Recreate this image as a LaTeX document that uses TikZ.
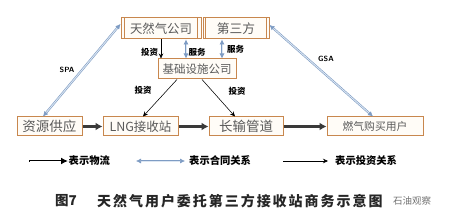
\documentclass[tikz,border=0pt]{standalone}
\usepackage{fontspec}
\setmainfont{Noto Sans CJK SC}
\usetikzlibrary{arrows.meta}
\definecolor{boxline}{HTML}{C8874E}
\definecolor{boxfill}{HTML}{FFFCF7}
\definecolor{boxtext}{HTML}{5A5A5A}
\definecolor{cblue}{HTML}{7E9CC4}
\definecolor{cbluel}{HTML}{DCE6F2}
\definecolor{flowgray}{HTML}{3A3A3A}
\newcommand{\fsz}[1]{\fontsize{#1}{#1}\selectfont}
\tikzset{
  box/.style={draw=boxline, line width=1pt, fill=boxfill, text=boxtext,
    minimum height=#1, inner sep=0pt},
  box/.default=19,
  lbl/.style={font=\fsz{8.5}\bfseries, text=black, inner sep=0pt},
  leg/.style={font=\fsz{10.3}\bfseries, text=black, inner sep=0pt, anchor=west},
  invest/.style={draw=black, line width=0.55pt, -{Stealth[length=5pt,width=4.5pt]}},
  contract/.style={draw=cblue, double=cbluel, line width=0.6pt, double distance=0.9pt,
    {Latex[length=5pt,width=5pt,fill=cblue]}-{Latex[length=5pt,width=5pt,fill=cblue]}},
  flow/.style={draw=flowgray, line width=2.3pt, -{Latex[length=7pt,width=8pt]}},
  flowlegout/.style={draw=black, line width=2.6pt, -{Latex[length=7pt,width=7pt]}},
  flowlegin/.style={draw=white, line width=0.9pt, shorten >=7pt, shorten <=0.8pt},
}
\begin{document}
\begin{tikzpicture}[x=1pt,y=-1pt]
\useasboundingbox (0,0) rectangle (453,219);
\fill[white] (0,0) rectangle (453,219);
% top boxes
\node[box=21, minimum width=80, font=\fsz{12.4}] (ng) at (161,28.5) {天然气公司};
\draw[boxline, line width=0.8pt] ([xshift=4]ng.north west) -- ([xshift=4]ng.south west)
  ([xshift=-4]ng.north east) -- ([xshift=-4]ng.south east);
\node[box=21, minimum width=66, font=\fsz{12.7}] (third) at (236,28.5) {第三方};
\draw[boxline, line width=0.8pt] ([xshift=3]third.north west) -- ([xshift=3]third.south west)
  ([xshift=-3]third.north east) -- ([xshift=-3]third.south east);
\node[box=20, minimum width=78, font=\fsz{11.5}] (infra) at (197,69) {基础设施公司};
% bottom row
\node[box, minimum width=65, font=\fsz{13.5}] (src) at (49.5,126.5) {资源供应};
\node[box, minimum width=75, font=\fsz{12.5}] (lng) at (140.5,126.5) {LNG接收站};
\node[box, minimum width=74, font=\fsz{13.5}] (pipe) at (246,126.5) {长输管道};
\node[box, minimum width=96, font=\fsz{10.8}] (user) at (375,126.5) {燃气购买用户};
% connectors
\draw[invest] (ng.south) -- (ng.south |- infra.north);
\draw[contract] ([xshift=25]ng.south) -- ([xshift=25]ng.south |- infra.north);
\draw[contract] ([xshift=-14]third.south) -- ([xshift=-14]third.south |- infra.north);
\draw[invest] ([xshift=-20]infra.south) -- ([xshift=2.5]lng.north);
\draw[invest] ([xshift=5]infra.south) -- ([xshift=-11]pipe.north);
\draw[contract] ([xshift=-6.5]src.north) -- ([yshift=4.5]ng.west);
\draw[contract] ([yshift=3.5]third.east) -- ([xshift=-2]user.north);
\draw[flow] (src) -- (lng);
\draw[flow] (lng) -- (pipe);
\draw[flow] (pipe) -- (user);
% labels
\node[lbl] (l1) at (149.5,52) {投资};
\node[lbl] (l2) at (197,52) {服务};
\node[lbl] (l3) at (235.5,49) {服务};
\node[lbl] (l4) at (143,90) {投资};
\node[lbl] (l5) at (237,91) {投资};
\node[lbl, font=\fsz{7.5}\bfseries\sffamily] (spa) at (67,70) {SPA};
\node[lbl, font=\fsz{7.5}\bfseries\sffamily] (gsa) at (326,59) {GSA};
% legend
\coordinate (a1) at (29,161); \coordinate (a2) at (68,161);
\draw[flowlegout] (a1) -- (a2);
\draw[flowlegin] (a1) -- (a2);
\node[leg] (t1) at (68.5,161) {表示物流};
\coordinate (b1) at (136,161); \coordinate (b2) at (185,161);
\draw[contract] (b1) -- (b2);
\node[leg] (t2) at (189,161) {表示合同关系};
\coordinate (c1) at (283,161); \coordinate (c2) at (328,161);
\draw[invest] (c1) -- (c2);
\node[leg] (t3) at (335,161) {表示投资关系};
% caption
\node[anchor=west, inner sep=0pt, font=\fsz{13.5}\bfseries, text=black!85] (cap1) at (55,201) {图7};
\node[anchor=west, inner sep=0pt, font=\fsz{14}\bfseries\addfontfeature{LetterSpace=14}, text=black!85] (cap2) at (97,201) {天然气用户委托第三方接收站商务示意图};
\node[anchor=west, inner sep=0pt, font=\fsz{9.5}, text=black!55] (wm) at (393,201) {石油观察};
\end{tikzpicture}
\end{document}
